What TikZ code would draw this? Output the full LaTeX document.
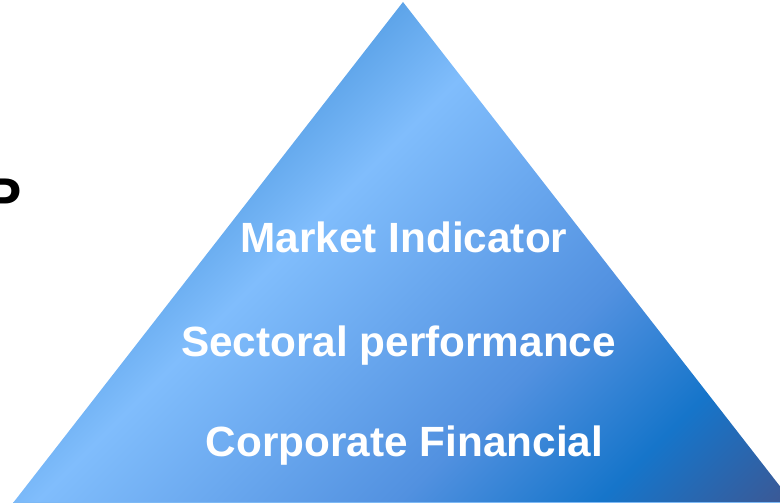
\documentclass[tikz,border=0pt]{standalone}
\usepackage{fontspec}
\setmainfont{Liberation Sans}
\usepackage{tikz}
\usetikzlibrary{positioning}

\definecolor{pyrA}{RGB}{92,163,232}
\definecolor{pyrB}{RGB}{128,189,252}
\definecolor{pyrC}{RGB}{82,145,224}
\definecolor{pyrD}{RGB}{22,117,202}
\definecolor{pyrE}{RGB}{60,88,148}
\definecolor{pyrEdge}{RGB}{125,185,245}

\pgfdeclarehorizontalshading{pyrshade}{1100pt}{%
  color(0pt)=(pyrA); color(70pt)=(pyrA); color(168pt)=(pyrB);
  color(424pt)=(pyrC); color(566pt)=(pyrD); color(700pt)=(pyrE); color(720pt)=(pyrE)}

\begin{document}
\begin{tikzpicture}[
x=1pt, y=1pt,
leveltext/.style={anchor=base, text=white, inner sep=0pt, font=\bfseries\fontsize{42.3}{50}\selectfont},
lefttext/.style={anchor=north east, text=black, inner sep=0pt, font=\bfseries\fontsize{56}{60}\selectfont},
]
\useasboundingbox (0,0) rectangle (780,503);

%Corners
\coordinate (apex)  at (403,501);
\coordinate (baseL) at (13,0);
\coordinate (baseR) at (793,0);

%Pyramid
\begin{scope}
\clip (apex) -- (baseL) -- (baseR) -- cycle;
\node[rotate=-45, inner sep=0pt] (fill) at (471.3,165.1) {\pgfuseshading{pyrshade}};
\draw[pyrEdge, line width=2pt] (baseL) -- (baseR);
\end{scope}

%Nodes
\node[leveltext] (market)    at (404,250) {Market Indicator};
\node[leveltext] (sectoral)  at (398.5,146) {Sectoral performance};
\node[leveltext] (corporate) at (404.5,46) {Corporate Financial};
\node[lefttext]  (side)      at (22,324) {P};
\end{tikzpicture}
\end{document}
